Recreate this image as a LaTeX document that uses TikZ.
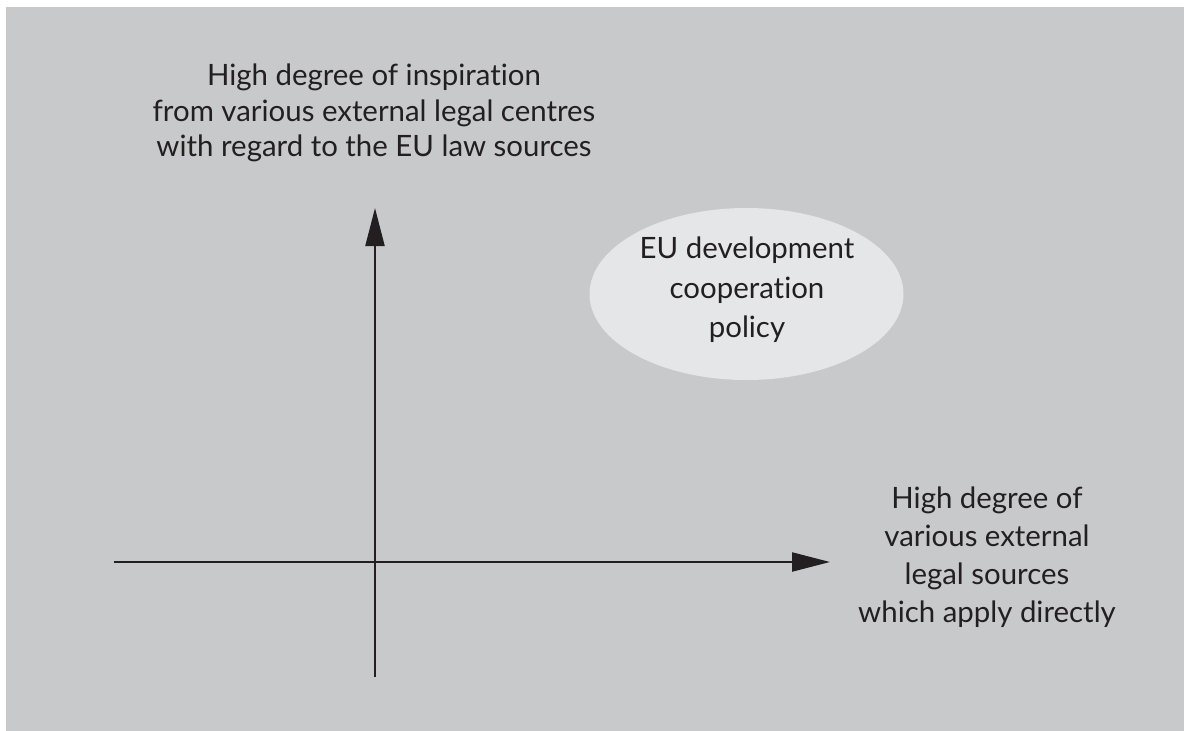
\documentclass[tikz,border=0pt]{standalone}
\usepackage{fontspec}
\setmainfont[Ligatures={NoCommon}]{Lato}
\usetikzlibrary{arrows.meta,shapes.geometric}
\definecolor{bggray}{HTML}{C8C9CB}
\definecolor{ellgray}{HTML}{E5E6E8}
\definecolor{ink}{HTML}{231F20}
\tikzset{
  axis/.style={draw=ink, line width=2.2pt, -{Triangle[length=38pt,width=19pt]}},
  lbl/.style={text=ink, align=center, inner sep=0pt},
  bubble/.style={ellipse, fill=ellgray, draw=none, minimum width=314pt, minimum height=172pt, inner sep=0pt}
}
\begin{document}
\begin{tikzpicture}[x=1pt,y=-1pt]
\useasboundingbox (0,0) rectangle (1184,731);
\fill[bggray] (6,7) rectangle (1184,731);
\node[bubble] (pol) at (746.5,294) {};
\node[lbl, font=\fontsize{29.4}{39.5}\selectfont] (poltext) at (747,290) {EU development\\cooperation\\policy};
\coordinate (ybot) at (375,677);
\coordinate (ytop) at (375,208);
\coordinate (xleft) at (114,562);
\coordinate (xright) at (830,562);
\draw[axis] (xleft) -- (xright);
\draw[axis] (ybot) -- (ytop);
\node[lbl, font=\fontsize{29.4}{35.5}\selectfont] (ylab) at (374,113) {High degree of inspiration\\from various external legal centres\\with regard to the EU law sources};
\node[lbl, font=\fontsize{29.4}{38}\selectfont] (xlab) at (987,557) {High degree of\\various external\\legal sources\\which apply directly};
\end{tikzpicture}
\end{document}
